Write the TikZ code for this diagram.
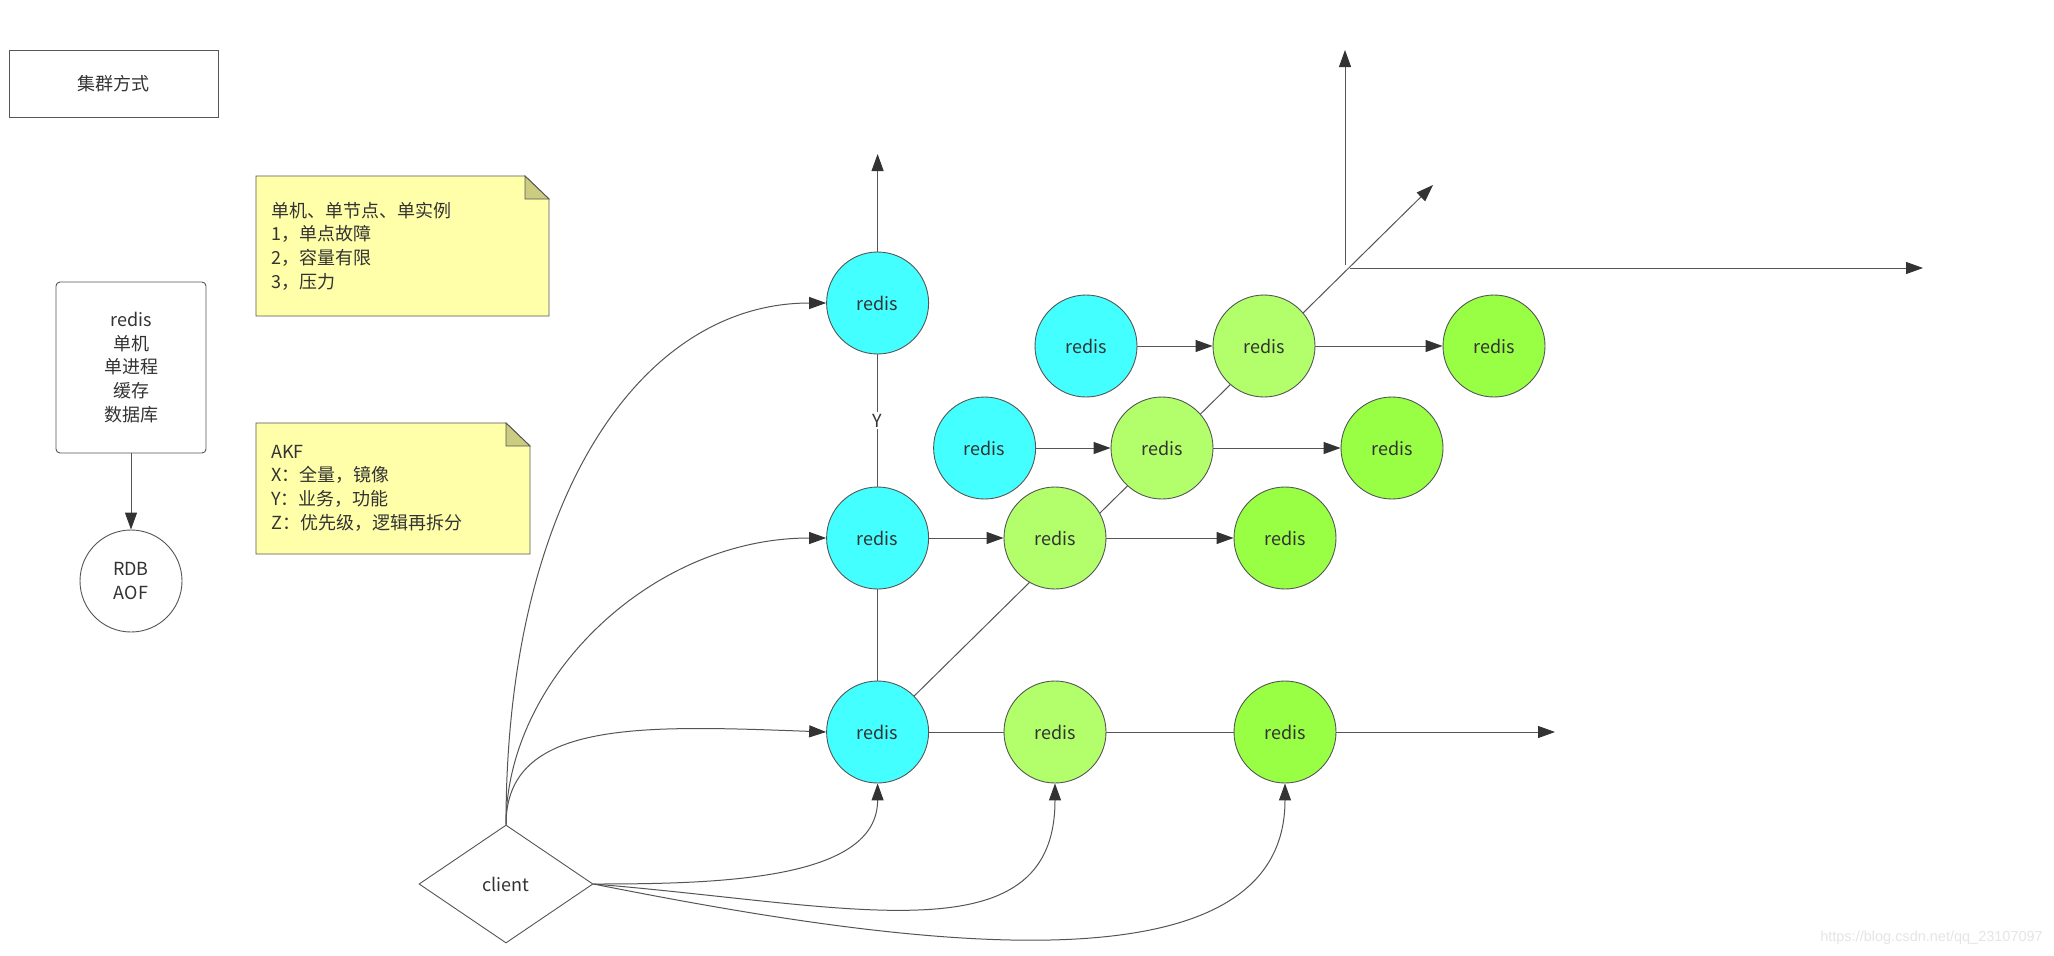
\documentclass[tikz,border=0pt]{standalone}
\usepackage{fontspec}
\setmainfont{Noto Sans CJK SC}
\newfontfamily\wmfont{Liberation Sans}
\usetikzlibrary{arrows.meta,shapes.geometric,backgrounds}
\definecolor{cyanfill}{HTML}{44FFFF}
\definecolor{lgfill}{HTML}{B3FF6B}
\definecolor{dgfill}{HTML}{99FF44}
\definecolor{notefill}{HTML}{FFFFAA}
\definecolor{foldfill}{HTML}{CCCC80}
\definecolor{linec}{HTML}{555555}
\definecolor{tipc}{HTML}{333333}
\definecolor{txtc}{HTML}{333333}
\begin{document}
\begin{tikzpicture}[x=1pt,y=-1pt,
  every node/.style={font=\fontsize{18}{23.7}\selectfont, text=txtc},
  conn/.style={draw=linec, line width=1pt},
  arr/.style={conn, -{Triangle[length=17pt,width=12pt,color=tipc]}},
  rnode/.style={circle, draw=linec, line width=0.9pt, minimum size=102pt, inner sep=0pt},
  notebg/.style={draw=linec, line width=0.9pt, fill=notefill},
  foldbg/.style={draw=linec, line width=0.9pt, fill=foldfill},
  plainbox/.style={draw=linec, line width=0.9pt, inner sep=0pt, align=center}
]
\useasboundingbox (0,0) rectangle (2054,956);

% title box
\node[plainbox, minimum width=209.6pt, minimum height=67pt] (title) at (113.8,83.5) {集群方式};

% single redis box and persistence
\node[plainbox, rounded corners=4pt, minimum width=150pt, minimum height=171pt] (single) at (131,367.5) {redis\\单机\\单进程\\缓存\\数据库};
\node[plainbox, circle, minimum size=102pt] (rdb) at (131,581) {RDB\\AOF};
\draw[arr] (single) -- (rdb);

% notes
\draw[notebg] (256,176) -- (525,176) -- (549,199) -- (549,316) -- (256,316) -- cycle;
\draw[foldbg] (525,176) -- (525,199) -- (549,199) -- cycle;
\node[anchor=west, align=left, inner sep=0pt] (n1) at (271,246) {单机、单节点、单实例\\1，单点故障\\2，容量有限\\3，压力};

\draw[notebg] (256,423) -- (506,423) -- (530,446) -- (530,554) -- (256,554) -- cycle;
\draw[foldbg] (506,423) -- (506,446) -- (530,446) -- cycle;
\node[anchor=west, align=left, inner sep=0pt] (n2) at (271,488) {AKF\\X：全量，镜像\\Y：业务，功能\\Z：优先级，逻辑再拆分};

% redis nodes
\node[rnode, fill=cyanfill] (A1) at (877.6,303) {redis};
\node[rnode, fill=cyanfill] (A2) at (877.6,538) {redis};
\node[rnode, fill=cyanfill] (A3) at (877.6,732) {redis};
\node[rnode, fill=lgfill] (B2) at (1055,538) {redis};
\node[rnode, fill=dgfill] (C2) at (1285,538) {redis};
\node[rnode, fill=lgfill] (B3) at (1055,732) {redis};
\node[rnode, fill=dgfill] (C3) at (1285,732) {redis};
\node[rnode, fill=cyanfill] (P1) at (984.6,448) {redis};
\node[rnode, fill=lgfill] (P2) at (1162,448) {redis};
\node[rnode, fill=dgfill] (P3) at (1392,448) {redis};
\node[rnode, fill=cyanfill] (Q1) at (1086,346) {redis};
\node[rnode, fill=lgfill] (Q2) at (1264,346) {redis};
\node[rnode, fill=dgfill] (Q3) at (1494,346) {redis};

% client
\node[diamond, draw=linec, line width=0.9pt, minimum width=174pt, minimum height=118pt, inner sep=0pt] (cl) at (506,884) {client};

% free ends
\coordinate (A1up) at (877.6,154);
\coordinate (vStart) at (1345,265);
\coordinate (vTip) at (1345,50);
\coordinate (hStart) at (1350,268);
\coordinate (hTip) at (1923,268);
\coordinate (dTip) at (1433,185);
\coordinate (bTip) at (1555,732);

% Y axis
\draw[arr] (A1) -- (A1up);
\draw[conn] (A1) -- node[fill=white, inner sep=2pt] (ylab) {Y} (A2);
\draw[conn] (A2) -- (A3);

% rows
\draw[arr] (A2) -- (B2);
\draw[arr] (B2) -- (C2);
\draw[arr] (P1) -- (P2);
\draw[arr] (P2) -- (P3);
\draw[arr] (Q1) -- (Q2);
\draw[arr] (Q2) -- (Q3);
\draw[conn] (A3) -- (B3);
\draw[conn] (B3) -- (C3);
\draw[arr] (C3) -- (bTip);

% big axes
\draw[arr] (vStart) -- (vTip);
\draw[arr] (hStart) -- (hTip);

% client curves
\draw[arr] (cl.north) .. controls (506,500) and (640,303) .. (A1.west);
\draw[arr] (cl.north) .. controls (506,680) and (650,538) .. (A2.west);
\draw[arr] (cl.north) .. controls (506,720) and (640,725) .. (A3.west);
\draw[arr] (cl.east) .. controls (720,884) and (877.6,880) .. (A3.south);
\draw[arr] (cl.east) .. controls (850,905) and (1055,960) .. (B3.south);
\draw[arr] (cl.east) .. controls (900,945) and (1285,1000) .. (C3.south);

% watermark
\node[font=\wmfont\fontsize{14.5}{16}\selectfont, text=black!10, anchor=east, inner sep=0pt] (wm) at (2043,938) {https://blog.csdn.net/qq\_23107097};

\begin{pgfonlayer}{background}
\fill[white] (0,0) rectangle (2054,956);
\draw[arr] (A3) -- (dTip);
\end{pgfonlayer}
\end{tikzpicture}
\end{document}
